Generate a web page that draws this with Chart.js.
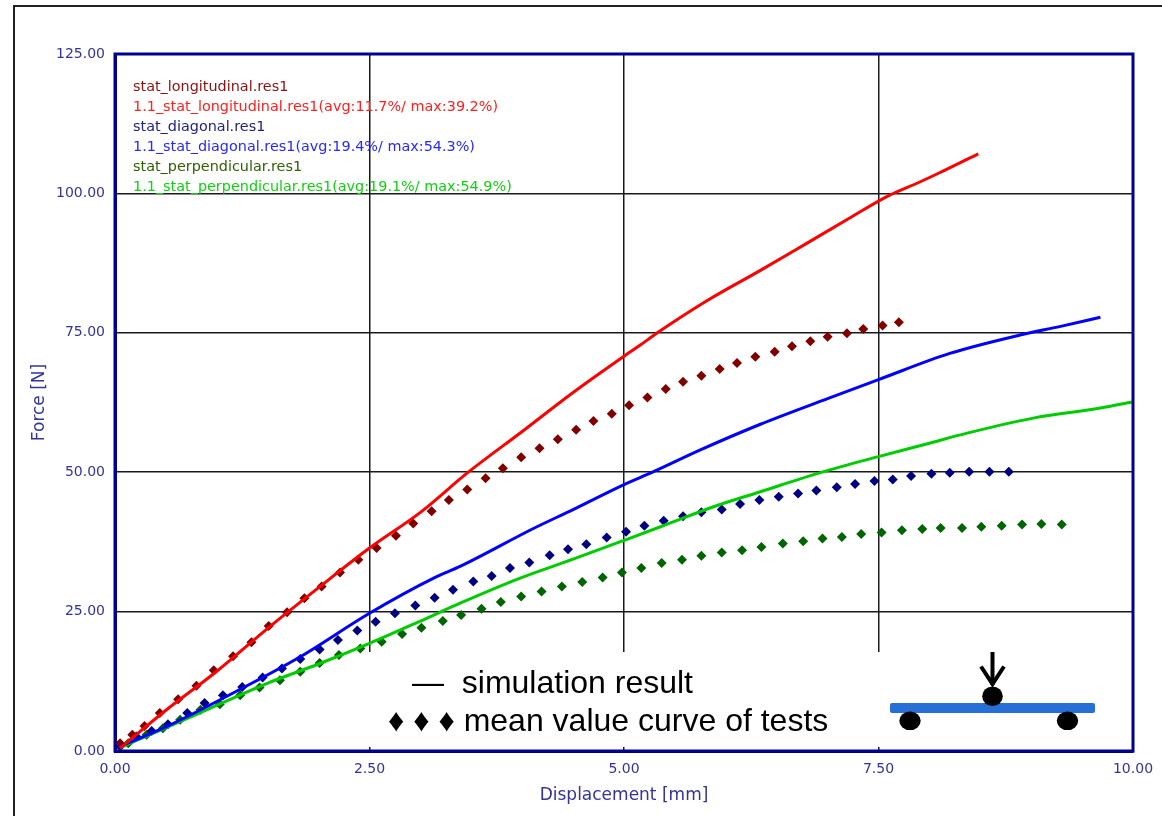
<!DOCTYPE html>
<html><head><meta charset="utf-8">
<script src="https://cdn.jsdelivr.net/npm/chart.js@4.4.1/dist/chart.umd.min.js"></script>
<style>
html,body{margin:0;padding:0;background:#fff;}
#wrap{position:relative;width:1162px;height:816px;overflow:hidden;}
#frame{position:absolute;left:13px;top:5px;width:1160px;height:830px;border-left:2px solid #222;border-top:2px solid #222;pointer-events:none;}
canvas{position:absolute;left:0;top:0;}
.leg{position:absolute;left:133px;font-family:"DejaVu Sans";font-size:14.4px;line-height:20px;white-space:pre;}
.ann{position:absolute;font-family:"Liberation Sans",Arial;font-size:32px;line-height:32px;white-space:pre;color:#000;}
svg{position:absolute;left:0;top:0;}
</style></head><body>
<div id="wrap">
<canvas id="c" width="1162" height="816"></canvas>
<div id="frame"></div>
<div id="legend"></div>
<div class="ann" style="left:412px;top:666px">—  simulation result</div>
<div class="ann" style="left:388px;top:704px">♦ ♦ ♦ mean value curve of tests</div>
<svg width="1162" height="816">
<rect x="890" y="703" width="205" height="10" rx="2" fill="#266fd6"/>
<ellipse cx="910" cy="720.8" rx="10.7" ry="9.3" fill="#000"/>
<ellipse cx="1067.5" cy="720.8" rx="10.7" ry="9.3" fill="#000"/>
<ellipse cx="992.5" cy="696.3" rx="10.3" ry="9.8" fill="#000"/>
<line x1="992.5" y1="652" x2="992.5" y2="685" stroke="#000" stroke-width="4"/>
<polyline points="981,666.5 992.5,684 1004,666.5" fill="none" stroke="#000" stroke-width="4"/>
</svg>
</div>
<script>
// ---- data ----
const testLabels = ['stat_longitudinal.res1', 'stat_diagonal.res1', 'stat_perpendicular.res1'];
const simLabels = [
  '1.1_stat_longitudinal.res1(avg:11.7%/ max:39.2%)',
  '1.1_stat_diagonal.res1(avg:19.4%/ max:54.3%)',
  '1.1_stat_perpendicular.res1(avg:19.1%/ max:54.9%)'
];
const xTicks = [0, 2.5, 5, 7.5, 10];
const yTicks = [0, 25, 50, 75, 100, 125];

// tests (mean value curves) - markers
const longTestX = [0.05,0.17,0.29,0.44,0.62,0.80,0.97,1.16,1.34,1.51,1.69,1.86,2.03,2.21,2.39,2.57,2.76,2.93,3.11,3.28,3.46,3.64,3.81,3.99,4.17,4.35,4.53,4.70,4.88,5.05,5.23,5.41,5.58,5.76,5.94,6.11,6.29,6.48,6.65,6.83,7.00,7.19,7.35,7.54,7.70];
const longTestY = [1.4,2.9,4.5,6.8,9.3,11.7,14.5,17.0,19.5,22.4,24.9,27.4,29.5,32.0,34.3,36.4,38.6,40.8,43.0,45.0,46.9,48.9,50.7,52.7,54.3,55.9,57.6,59.2,60.5,62.0,63.4,64.9,66.2,67.3,68.5,69.6,70.7,71.6,72.6,73.5,74.3,74.9,75.7,76.3,76.9];
const diagTestX = [0.05,0.21,0.36,0.52,0.71,0.88,1.06,1.25,1.45,1.64,1.82,2.01,2.19,2.38,2.56,2.75,2.95,3.14,3.32,3.52,3.70,3.88,4.07,4.27,4.45,4.63,4.83,5.02,5.20,5.39,5.58,5.76,5.96,6.14,6.33,6.52,6.71,6.89,7.09,7.27,7.46,7.64,7.82,8.02,8.20,8.39,8.59,8.78];
const diagTestY = [0.8,2.6,3.6,4.8,6.8,8.6,10.0,11.5,13.2,14.8,16.5,18.2,19.9,21.6,23.2,24.7,26.1,27.5,28.9,30.4,31.4,32.8,33.8,35.1,36.2,37.1,38.3,39.3,40.4,41.3,42.1,42.8,43.3,44.3,45.0,45.6,46.2,46.7,47.3,47.9,48.4,48.7,49.3,49.7,49.9,50.1,50.1,50.1];
const perpTestX = [0.13,0.31,0.47,0.64,0.84,1.03,1.23,1.42,1.62,1.82,2.01,2.20,2.41,2.62,2.82,3.01,3.22,3.40,3.60,3.79,3.99,4.19,4.39,4.59,4.79,4.98,5.17,5.37,5.57,5.76,5.96,6.16,6.35,6.56,6.76,6.95,7.14,7.33,7.53,7.73,7.93,8.11,8.32,8.51,8.71,8.91,9.10,9.30];
const perpTestY = [1.4,2.9,4.1,5.6,7.4,8.4,10.0,11.4,12.7,14.2,15.8,17.2,18.4,19.6,21.0,22.1,23.3,24.4,25.5,26.7,27.7,28.6,29.5,30.3,31.1,32.0,32.8,33.7,34.3,35.0,35.6,36.0,36.6,37.2,37.6,38.1,38.4,38.9,39.2,39.6,39.8,40.0,40.0,40.2,40.4,40.6,40.7,40.6];

// simulation results - lines
const longSimX = [0.05,0.5,1.0,1.5,2.0,2.5,3.0,3.47,4.0,4.5,5.0,5.16,5.32,5.81,6.34,6.79,7.2,7.6,7.9,8.10,8.48];
const longSimY = [0.5,7.3,14.3,22.0,29.3,36.4,42.8,50.0,57.3,64.3,70.8,72.8,74.9,80.7,86.2,91.0,95.4,99.6,102.0,103.7,107.1];
const diagSimX = [0.05,0.51,1.16,1.82,2.5,3.13,3.39,4.11,4.5,4.99,5.29,5.75,6.34,7.0,7.5,8.2,8.89,9.3,9.68];
const diagSimY = [0.8,4.4,10.4,16.9,24.7,31.0,33.1,39.9,43.3,47.7,50.1,54.0,58.6,63.2,66.6,71.3,74.6,76.2,77.8];
const perpSimX = [0.05,0.83,1.49,2.0,2.5,3.0,3.39,3.98,4.5,4.99,5.4,5.88,6.34,6.96,7.5,8.0,8.37,9.02,9.68,9.99];
const perpSimY = [0.6,6.8,12.1,15.6,19.3,23.3,26.5,31.0,34.4,37.7,40.5,43.8,46.5,50.1,52.8,55.2,57.0,59.7,61.5,62.6];

const testColors = ['#800000', '#000080', '#006400'];
const simColors = ['#ff0000', '#0000ff', '#00cc00'];
const legendTestColors = ['#8b1010', '#222280', '#2f5f00'];
const legendSimColors = ['#ff2020', '#2828ff', '#10d010'];

const pts = (xs, ys) => xs.map((x, i) => ({x: x, y: ys[i]}));
const tests = [pts(longTestX, longTestY), pts(diagTestX, diagTestY), pts(perpTestX, perpTestY)];
const sims = [pts(longSimX, longSimY), pts(diagSimX, diagSimY), pts(perpSimX, perpSimY)];

// legend text (real text)
const legendDiv = document.getElementById('legend');
for (let i = 0; i < 3; i++) {
  [[testLabels[i], legendTestColors[i]], [simLabels[i], legendSimColors[i]]].forEach((p, j) => {
    const d = document.createElement('div');
    d.className = 'leg';
    d.style.top = (76 + (i * 2 + j) * 20) + 'px';
    d.style.color = p[1];
    d.textContent = p[0];
    legendDiv.appendChild(d);
  });
}

const datasets = [];
for (let i = 0; i < 3; i++) {
  datasets.push({
    label: testLabels[i], data: tests[i], showLine: false,
    pointStyle: 'rectRot', pointRadius: 5, pointBackgroundColor: testColors[i],
    pointBorderWidth: 0, backgroundColor: testColors[i], borderColor: testColors[i], order: 2
  });
  datasets.push({
    label: simLabels[i], data: sims[i], showLine: true, pointRadius: 0,
    borderColor: simColors[i], borderWidth: 3, cubicInterpolationMode: 'monotone', order: 1
  });
}

const tickFont = {family: 'DejaVu Sans', size: 14};
const titleFont = {family: 'DejaVu Sans', size: 17};
const axisColor = '#333399';

const framePlugin = {
  id: 'framePlugin',
  beforeDatasetsDraw(chart) {
    const ctx = chart.ctx;
    ctx.save();
    ctx.fillStyle = '#ffffff';
    ctx.fillRect(355, 652, 1120 - 355, 747 - 652);
    ctx.restore();
  },
  afterDatasetsDraw(chart) {
    const a = chart.chartArea, ctx = chart.ctx;
    ctx.save();
    ctx.strokeStyle = '#000090';
    ctx.lineWidth = 3;
    ctx.strokeRect(a.left, a.top, a.right - a.left, a.bottom - a.top);
    ctx.restore();
  }
};

new Chart(document.getElementById('c'), {
  type: 'scatter',
  data: {datasets: datasets},
  plugins: [framePlugin],
  options: {
    responsive: false,
    animation: false,
    layout: {padding: {left: 0, top: 54, right: 29, bottom: 0}},
    plugins: {legend: {display: false}, tooltip: {enabled: false}},
    scales: {
      x: {
        type: 'linear', min: 0, max: 10,
        afterBuildTicks: s => { s.ticks = xTicks.map(v => ({value: v})); },
        ticks: {callback: v => Number(v).toFixed(2), color: axisColor, font: tickFont, padding: 10, maxRotation: 0, autoSkip: false},
        grid: {color: '#1a1a1a', lineWidth: 1.5, drawTicks: false},
        border: {color: '#000090', width: 3},
        title: {display: true, text: 'Displacement [mm]', color: axisColor, font: titleFont, padding: {top: 0, bottom: 10}},
        afterFit: s => { s.height = 65; s.paddingLeft = 0; s.paddingRight = 0; }
      },
      y: {
        type: 'linear', min: 0, max: 125,
        afterBuildTicks: s => { s.ticks = yTicks.map(v => ({value: v})); },
        ticks: {callback: v => Number(v).toFixed(2), color: axisColor, font: tickFont, padding: 10, autoSkip: false},
        grid: {color: '#1a1a1a', lineWidth: 1.5, drawTicks: false},
        border: {color: '#000090', width: 3},
        title: {display: true, text: 'Force [N]', color: axisColor, font: titleFont, padding: {top: 29, bottom: 0}},
        afterFit: s => { s.width = 115; s.paddingTop = 0; s.paddingBottom = 0; }
      }
    }
  }
});
</script>
</body></html>
